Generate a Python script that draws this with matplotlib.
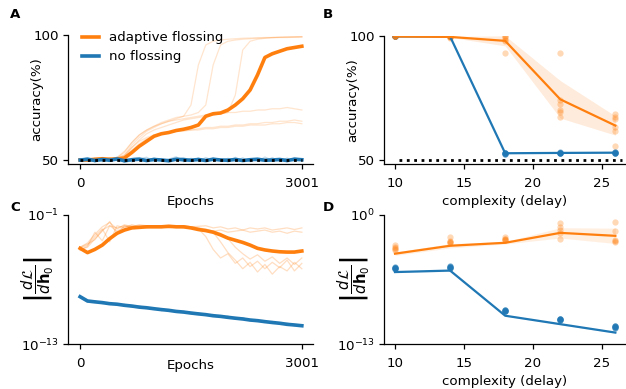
import numpy as np
import matplotlib
matplotlib.use("Agg")
import matplotlib.pyplot as plt
import matplotlib.transforms as mtrans

plt.rcParams['font.family'] = ['DejaVu Sans']
plt.rcParams['font.size'] = 9.6
plt.rcParams['axes.linewidth'] = 0.9
plt.rcParams['xtick.major.width'] = 0.9
plt.rcParams['ytick.major.width'] = 0.9
plt.rcParams['xtick.major.size'] = 3.6
plt.rcParams['ytick.major.size'] = 3.6
plt.rcParams['xtick.major.pad'] = 5.6
plt.rcParams['ytick.major.pad'] = 3.0

ORANGE = '#ff7f0e'
BLUE = '#1f77b4'

# ---------------- data ----------------
epochs = np.arange(0, 3001, 100)

# Panel A: accuracy (%) vs epochs
acc_flossing_main = [50, 50, 50.3, 50.5, 50.3, 50.4, 50.8, 53, 55.5, 57.5, 59.5, 60.5, 61, 61.8, 62.3, 63,
                     64, 67.5, 68.5, 68.8, 70, 72, 74.5, 78, 84, 91, 92.5, 93.5, 94.5, 95, 95.5]
acc_flossing_run1 = [50, 50, 50, 50, 50.5, 50.8, 52, 56, 59, 61.5, 63, 64.5, 65.5, 66.5, 67.5, 72, 88, 96,
                     97.5, 98, 98.3, 98.5, 98.7, 98.8, 98.9, 99, 99, 99.1, 99.2, 99.2, 99.3]
acc_flossing_run2 = [50, 50, 50, 50.2, 50.5, 51, 53, 57, 60, 62, 63.5, 65, 66, 67, 67.5, 68, 69, 72, 88, 96,
                     97.5, 98, 98.3, 98.5, 98.7, 98.8, 98.9, 99, 99, 99.1, 99.2]
acc_flossing_run3 = [50, 50, 50, 50, 50.3, 50.6, 51.5, 55, 58, 60.5, 62, 63, 64, 65, 66, 66.5, 67, 67.5, 68,
                     68.5, 69, 76, 94, 97.5, 98.3, 98.7, 99, 99.1, 99.2, 99.3, 99.3]
acc_flossing_run4 = [50, 50, 50, 50.2, 50.5, 51, 53.5, 57, 60, 62, 63.5, 64.5, 65.5, 66, 66.5, 67, 67.5, 68,
                     68, 68.5, 69, 69, 69.5, 69.5, 70, 70, 70.5, 70.5, 71, 70.5, 70]
acc_flossing_run5 = [50, 50, 50, 50, 50.3, 50.8, 52, 55, 57.5, 59, 60, 60.5, 61, 61.5, 62, 62, 62.5, 63, 63,
                     63.5, 63.5, 64, 64, 64.5, 64.5, 65, 65, 65.5, 65.5, 66, 65.5]
acc_flossing_run6 = [50, 50, 50, 50.2, 50.4, 50.6, 51.5, 54, 56.5, 58.5, 59.5, 60.5, 61, 61.5, 61.5, 62, 62,
                     62.5, 62.5, 63, 63, 63.5, 63.5, 64, 64, 64, 64.5, 64.5, 65, 65, 64.5]
acc_noflossing_main = [50, 50.3, 49.8, 50.2, 49.9, 50.4, 49.7, 50.1, 50.3, 49.8, 50.2, 50, 49.7, 50.3, 50.1,
                       49.9, 50.2, 49.8, 50.3, 50, 49.9, 50.2, 49.8, 50.1, 50.3, 49.9, 50, 50.2, 49.8, 50.3, 50.1]
acc_noflossing_run1 = [50, 51, 49.2, 50.8, 49.5, 51.2, 49, 50.6, 51, 49.4, 50.9, 49.6, 50.4, 51.3, 49.3, 50.7,
                       49.5, 51, 49.8, 50.5, 49.2, 51.1, 49.7, 50.6, 49.4, 51.2, 49.9, 50.5, 49.3, 51, 50.2]
acc_noflossing_run2 = [50, 49.4, 50.7, 49.3, 50.9, 49.6, 50.8, 49.2, 50.5, 51.1, 49.5, 50.6, 49.3, 50.2, 51,
                       49.6, 50.8, 49.4, 50.9, 49.5, 50.7, 49.6, 50.9, 49.3, 50.6, 49.5, 51, 49.4, 50.8, 49.6, 50]
chance_level = 50

# Panel B: accuracy vs delay
delays = [10, 14, 18, 22, 26]
acc_flossing_pts = [
    [100, 100, 100, 100, 100, 100],
    [100, 100, 99.8, 99.7, 100, 99.5],
    [100, 100, 99.5, 98.6, 98, 93.3],
    [93.3, 74.2, 72.8, 70.1, 69.4, 67.6],
    [68.8, 67.6, 66.6, 63.2, 61.8, 55.7],
]
acc_noflossing_pts = [
    [100, 100, 100, 100, 100, 100],
    [100, 100, 100, 100, 100, 100],
    [52.5, 52.8, 52.6, 53.0, 52.7, 52.9],
    [52.8, 53.0, 52.9, 52.7, 53.1, 52.8],
    [52.9, 53.1, 53.0, 52.8, 53.2, 52.9],
]

# Panel C: gradient norm (log10) vs epochs
grad_flossing_main = [-4.1, -4.5, -4.2, -3.8, -3.2, -2.7, -2.4, -2.2, -2.15, -2.1, -2.1, -2.1, -2.05, -2.1,
                      -2.1, -2.2, -2.35, -2.45, -2.6, -2.85, -3.15, -3.35, -3.55, -3.8, -4.1, -4.25, -4.35,
                      -4.42, -4.45, -4.45, -4.35]
grad_flossing_run1 = [-4.0, -3.6, -2.8, -2.1, -1.7, -2.3, -1.9, -2.1, -2.0, -2.1, -2.0, -2.1, -2.0, -2.1, -2.0,
                      -2.1, -2.05, -2.0, -2.2, -2.1, -2.3, -2.2, -2.4, -2.2, -2.3, -2.2, -2.4, -2.3, -2.2, -2.35, -2.2]
grad_flossing_run2 = [-4.2, -4.0, -3.2, -2.5, -1.6, -2.8, -2.0, -2.2, -2.1, -2.0, -2.15, -2.0, -2.1, -2.05, -2.2,
                      -2.1, -2.2, -2.4, -2.5, -2.4, -2.6, -2.5, -2.4, -2.6, -2.5, -2.4, -2.6, -2.5, -2.7, -2.5, -2.6]
grad_flossing_run3 = [-4.1, -3.8, -3.0, -2.3, -3.5, -2.0, -2.2, -1.9, -2.1, -2.0, -2.1, -2.0, -2.1, -2.0, -2.1,
                      -2.2, -2.3, -3.0, -4.2, -5.0, -4.6, -5.5, -5.0, -5.8, -5.3, -6.0, -5.4, -5.9, -5.2, -6.2, -5.5]
grad_flossing_run4 = [-4.3, -3.9, -2.6, -3.4, -2.0, -2.2, -2.0, -2.1, -1.9, -2.0, -2.1, -2.0, -2.05, -2.1, -2.0,
                      -2.2, -2.3, -2.4, -2.6, -3.5, -4.5, -5.2, -6.0, -5.4, -6.3, -5.6, -6.5, -5.8, -6.2, -5.4, -6.0]
grad_flossing_run5 = [-4.0, -3.7, -3.3, -2.4, -2.0, -2.5, -2.1, -2.0, -2.1, -2.2, -2.0, -2.1, -2.2, -2.1, -2.0,
                      -2.1, -2.2, -2.3, -2.5, -2.7, -3.2, -4.0, -4.6, -5.1, -4.7, -5.3, -4.9, -5.5, -5.0, -5.6, -5.0]
grad_noflossing_main = [-8.6, -9.0, -9.08, -9.15, -9.25, -9.3, -9.4, -9.47, -9.57, -9.63, -9.72, -9.8, -9.87,
                        -9.97, -10.03, -10.12, -10.2, -10.27, -10.37, -10.43, -10.52, -10.6, -10.67, -10.77,
                        -10.83, -10.92, -11.0, -11.07, -11.17, -11.23, -11.3]
grad_noflossing_run1 = [-8.7, -9.1, -9.0, -9.25, -9.15, -9.4, -9.3, -9.6, -9.45, -9.7, -9.65, -9.9, -9.8, -10.05,
                        -9.95, -10.2, -10.1, -10.35, -10.25, -10.5, -10.4, -10.7, -10.55, -10.85, -10.75, -11.0,
                        -10.9, -11.15, -11.05, -11.3, -11.2]

# Panel D: gradient norm (log10) vs delay
grad_flossing_line = [-3.9, -3.1, -2.8, -1.8, -2.1]
grad_flossing_pts = [
    [-3.05, -3.4, -3.55, -3.3, -3.2],
    [-2.2, -2.65, -2.85, -2.75, -2.7],
    [-2.2, -2.4, -2.55, -2.45, -2.5],
    [-0.85, -1.18, -1.86, -2.37, -1.5],
    [-0.68, -1.62, -2.54, -2.77, -2.6],
]
grad_noflossing_line = [-5.75, -5.6, -10.15, -11.0, -11.85]
grad_noflossing_pts = [
    [-5.25, -5.4, -5.3, -5.35, -5.3],
    [-5.1, -5.35, -5.2, -5.3, -5.25],
    [-9.6, -9.7, -9.65, -9.6, -9.7],
    [-10.5, -10.55, -10.45, -10.5, -10.6],
    [-11.2, -11.3, -11.25, -11.35, -11.2],
]

# ---------------- figure ----------------
W, H = 626, 389
fig = plt.figure(figsize=(W / 100, H / 100), dpi=100)


def rect(x0, y0, x1, y1):
    return [x0 / W, 1 - y1 / H, (x1 - x0) / W, (y1 - y0) / H]


axA = fig.add_axes(rect(68, 35, 313, 164))
axB = fig.add_axes(rect(384, 36, 625, 164))
axC = fig.add_axes(rect(68, 215, 313, 344))
axD = fig.add_axes(rect(384, 215, 625, 344))

for ax in (axA, axB, axC, axD):
    ax.spines['top'].set_visible(False)
    ax.spines['right'].set_visible(False)

gradlabel = r'$\left|\dfrac{d\mathcal{L}}{d\mathbf{h}_0}\right|$'


def place_ylabel(ax, xpix):
    tr = mtrans.blended_transform_factory(fig.transFigure, ax.transAxes)
    ax.yaxis.set_label_coords(xpix / W, 0.5, transform=tr)


def place_xlabel(ax, ypix):
    tr = mtrans.blended_transform_factory(ax.transAxes, fig.transFigure)
    ax.xaxis.set_label_coords(0.5, 1 - ypix / H, transform=tr)


# Panel A
for run in (acc_flossing_run1, acc_flossing_run2, acc_flossing_run3, acc_flossing_run4,
            acc_flossing_run5, acc_flossing_run6):
    axA.plot(epochs, run, color=ORANGE, alpha=0.2, lw=0.9)
for run in (acc_noflossing_run1, acc_noflossing_run2):
    axA.plot(epochs, run, color=BLUE, alpha=0.25, lw=0.9)
axA.plot(epochs, acc_flossing_main, color=ORANGE, lw=2.6, label='adaptive flossing')
axA.plot(epochs, acc_noflossing_main, color=BLUE, lw=2.6, label='no flossing')
axA.plot([epochs[0], epochs[-1] + 1], [chance_level, chance_level], color='black', ls=':', lw=2)
axA.set_xlim(-164, 3151)
axA.set_ylim(48.4, 100)
axA.set_xticks([0, 3001])
axA.set_yticks([50, 100])
axA.set_ylabel('accuracy(%)')
axA.set_xlabel('Epochs')
place_ylabel(axA, 43)
place_xlabel(axA, 195)
axA.legend(loc='upper left', bbox_to_anchor=(0.035, 1.07), frameon=False, handlelength=1.3,
           handletextpad=0.7, borderaxespad=0.0, labelspacing=0.45)

# Panel B
for i, d in enumerate(delays):
    axB.plot([d] * len(acc_noflossing_pts[i]), acc_noflossing_pts[i], 'o', color=BLUE, alpha=0.5,
             ms=4.5, mec='none')
for i, d in enumerate(delays):
    axB.plot([d] * len(acc_flossing_pts[i]), acc_flossing_pts[i], 'o', color=ORANGE, alpha=0.3,
             ms=4.5, mec='none')
for pts, col in ((acc_noflossing_pts, BLUE), (acc_flossing_pts, ORANGE)):
    arr = np.array(pts, dtype=float)
    m = arr.mean(axis=1)
    sem = arr.std(axis=1, ddof=1) / np.sqrt(arr.shape[1])
    axB.fill_between(delays, m - 1.96 * sem, m + 1.96 * sem, color=col, alpha=0.15, lw=0)
    axB.plot(delays, m, color=col, lw=1.6)
axB.plot([10.3, 26.5], [chance_level, chance_level], color='black', ls=':', lw=2)
axB.set_xlim(9.2, 26.7)
axB.set_ylim(48.4, 100.2)
axB.set_xticks([10, 15, 20, 25])
axB.set_yticks([50, 100])
axB.set_ylabel('accuracy(%)')
axB.set_xlabel('complexity (delay)')
place_ylabel(axB, 359)
place_xlabel(axB, 195)

# Panel C
for run in (grad_flossing_run1, grad_flossing_run2, grad_flossing_run3, grad_flossing_run4,
            grad_flossing_run5):
    axC.plot(epochs, 10.0 ** np.array(run), color=ORANGE, alpha=0.25, lw=0.9)
axC.plot(epochs, 10.0 ** np.array(grad_noflossing_run1), color=BLUE, alpha=0.25, lw=0.9)
axC.plot(epochs, 10.0 ** np.array(grad_flossing_main), color=ORANGE, lw=2.6)
axC.plot(epochs, 10.0 ** np.array(grad_noflossing_main), color=BLUE, lw=2.6)
axC.set_yscale('log')
axC.set_xlim(-164, 3151)
axC.set_ylim(1e-13, 1e-1)
axC.set_xticks([0, 3001])
axC.set_yticks([1e-13, 1e-1])
axC.yaxis.set_minor_locator(matplotlib.ticker.NullLocator())
axC.set_ylabel(gradlabel, fontsize=10.5)
axC.set_xlabel('Epochs')
place_ylabel(axC, 56)
place_xlabel(axC, 359)

# Panel D
for pts, col, line, a in ((grad_noflossing_pts, BLUE, grad_noflossing_line, 0.6),
                          (grad_flossing_pts, ORANGE, grad_flossing_line, 0.3)):
    arr = np.array(pts, dtype=float)
    for i, d in enumerate(delays):
        axD.plot([d] * arr.shape[1], 10.0 ** arr[i], 'o', color=col, alpha=a, ms=4.5, mec='none')
    sem = arr.std(axis=1, ddof=1) / np.sqrt(arr.shape[1])
    ln = np.array(line)
    axD.fill_between(delays, 10.0 ** (ln - 1.96 * sem), 10.0 ** (ln + 1.96 * sem), color=col, alpha=0.12, lw=0)
    axD.plot(delays, 10.0 ** ln, color=col, lw=1.6)
axD.set_yscale('log')
axD.set_xlim(9.2, 26.7)
axD.set_ylim(1e-13, 1)
axD.set_xticks([10, 15, 20, 25])
axD.set_yticks([1e-13, 1])
axD.yaxis.set_minor_locator(matplotlib.ticker.NullLocator())
axD.set_ylabel(gradlabel, fontsize=10.5)
axD.set_xlabel('complexity (delay)')
place_ylabel(axD, 372)
place_xlabel(axD, 375)

# panel letters
for lab, (x, y) in zip('ABCD', [(15, 15), (328, 15), (15, 207), (328, 207)]):
    fig.text(x / W, 1 - y / H, lab, fontsize=9.6, fontweight='bold', ha='center', va='center')

fig.savefig('out.png', dpi=100)
